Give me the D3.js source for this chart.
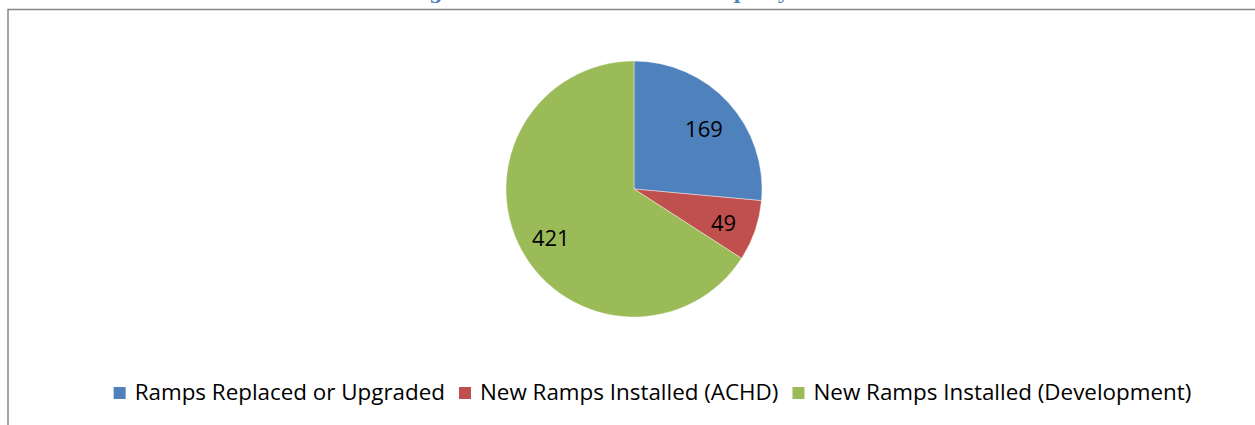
<!DOCTYPE html>
<html>
<head>
<meta charset="utf-8">
<script src="https://cdn.jsdelivr.net/npm/d3@7"></script>
<style>
  html, body { margin: 0; padding: 0; background: #fff; overflow: hidden; }
  svg { display: block; }
</style>
</head>
<body>
<svg id="chart" width="1255" height="425"></svg>
<script>
// data
var categories = ["Ramps Replaced or Upgraded", "New Ramps Installed (ACHD)", "New Ramps Installed (Development)"];
var values = [169, 49, 421];
var colors = ["#4F81BD", "#C0504D", "#9BBB59"];
var title = "Figure 12: Installed Curb Ramps by ACHD";

var W = 1255, H = 425;
var svg = d3.select("#chart");

// chart frame (right edge falls outside the picture)
svg.append("path")
  .attr("d", "M8,425 V9.5 H1255")
  .attr("fill", "none")
  .attr("stroke", "#878787")
  .attr("stroke-width", 1.5);

// title, cut off at the top of the page
svg.append("text")
  .attr("x", 634)
  .attr("y", -1.5)
  .attr("text-anchor", "middle")
  .style("font-family", "'DejaVu Serif', 'Liberation Serif', serif")
  .style("font-weight", "bold")
  .style("font-size", "19px")
  .style("fill", "#4F81BD")
  .text(title);

var cx = 634, cy = 189, r = 128;

var data = categories.map(function (c, i) {
  return { name: c, value: values[i], color: colors[i] };
});

var pie = d3.pie().sort(null).value(function (d) { return d.value; });
var arc = d3.arc().innerRadius(0).outerRadius(r);
var labelArc = d3.arc().innerRadius(r * 0.74).outerRadius(r * 0.74);

var g = svg.append("g").attr("transform", "translate(" + cx + "," + cy + ")");

g.selectAll("path.slice")
  .data(pie(data))
  .enter()
  .append("path")
  .attr("class", "slice")
  .attr("d", arc)
  .attr("fill", function (d) { return d.data.color; })
  .attr("stroke", "#ffffff")
  .attr("stroke-opacity", 0.5)
  .attr("stroke-width", 0.8);

g.selectAll("text.lab")
  .data(pie(data))
  .enter()
  .append("text")
  .attr("class", "lab")
  .attr("transform", function (d) {
    var c = labelArc.centroid(d);
    return "translate(" + c[0] + "," + c[1] + ")";
  })
  .attr("text-anchor", "middle")
  .attr("dy", "0.52em")
  .style("font-family", "'Open Sans', 'Noto Sans', sans-serif")
  .style("font-size", "22px")
  .style("fill", "#000")
  .text(function (d) { return d.data.value; });

// legend, laid out from measured text widths and centred
var legend = svg.append("g");
var items = legend.selectAll("g.item")
  .data(data)
  .enter()
  .append("g")
  .attr("class", "item");

items.append("rect")
  .attr("width", 12)
  .attr("height", 12)
  .attr("y", -13)
  .attr("fill", function (d) { return d.color; });

items.append("text")
  .attr("x", 21)
  .attr("y", 0)
  .style("font-family", "'Open Sans', 'Noto Sans', sans-serif")
  .style("font-size", "22.4px")
  .style("fill", "#000")
  .text(function (d) { return d.name; });

var xpos = 0;
items.each(function (d) {
  var w = d3.select(this).select("text").node().getComputedTextLength();
  d3.select(this).attr("transform", "translate(" + xpos + ",0)");
  xpos += 21 + w + 14;
});
var total = xpos - 14;
legend.attr("transform", "translate(" + (652.5 - total / 2) + ",400)");
</script>
</body>
</html>
